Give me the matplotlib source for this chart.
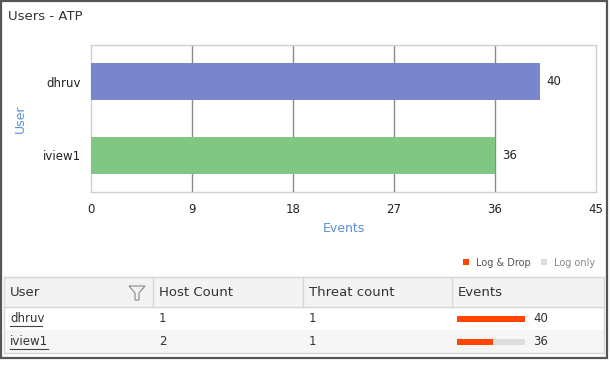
import numpy as np
import matplotlib.pyplot as plt
from matplotlib.patches import Rectangle, Polygon

users = ['dhruv', 'iview1']
events = [40, 36]
host_count = [1, 2]
threat_count = [1, 1]
log_drop = [40, 19]
log_only = [0, 17]
bar_colors = ['#7986cb', '#81c784']
x_ticks = [0, 9, 18, 27, 36, 45]

W, H = 610, 372
fig = plt.figure(figsize=(W / 100, H / 100), dpi=100)
plt.rcParams['font.family'] = ['DejaVu Sans']

# overlay in pixel coords for frame, title and table
ov = fig.add_axes([0, 0, 1, 1])
ov.set_xlim(0, W)
ov.set_ylim(H, 0)
ov.axis('off')

ov.add_patch(Rectangle((1, 1), 606, 357, fill=False, edgecolor='#555555', lw=1.6))
ov.text(8, 16, 'Users - ATP', fontsize=9.5, color='#333333', va='center', ha='left')

# bar chart
ax = fig.add_axes([91 / W, 1 - 192 / H, 505 / W, 147 / H])
ypos = np.arange(len(users))[::-1]
ax.barh(ypos, events, height=0.5, color=bar_colors, zorder=3)
for y, v in zip(ypos, events):
    ax.text(v + 0.6, y, str(v), va='center', ha='left', fontsize=8.5, color='#222222')
ax.set_xlim(0, 45)
ax.set_ylim(-0.5, 1.5)
ax.set_xticks(x_ticks)
ax.set_yticks(ypos)
ax.set_yticklabels(users)
ax.tick_params(length=0, labelsize=8.5, labelcolor='#222222', pad=8)
ax.tick_params(axis='y', pad=7)
for t in x_ticks[1:-1]:
    ax.axvline(t, color='#8a8a8a', lw=1, zorder=1)
for s in ax.spines.values():
    s.set_color('#d0d0d0')
    s.set_linewidth(1)
ax.set_xlabel('Events', fontsize=9, color='#5b8fd6', labelpad=4)
ax.set_ylabel('User', fontsize=9, color='#5b8fd6', labelpad=12)

# legend
ov.add_patch(Rectangle((463, 259), 6, 6, color='#ff4500', lw=0))
ov.text(476, 263, 'Log & Drop', fontsize=7, color='#555555', va='center')
ov.add_patch(Rectangle((541, 259), 6, 6, color='#dddddd', lw=0))
ov.text(554, 263, 'Log only', fontsize=7, color='#888888', va='center')

# table
tl, tr = 4, 604
col_x = [4, 153, 303, 452, 604]
top, head_b, row_h = 277, 307, 23
ov.add_patch(Rectangle((tl, top), tr - tl, head_b - top, facecolor='#f3f3f3', edgecolor='none'))
for i in range(len(users)):
    fc = '#ffffff' if i % 2 == 0 else '#f6f6f6'
    ov.add_patch(Rectangle((tl, head_b + i * row_h), tr - tl, row_h, facecolor=fc, edgecolor='none'))
bottom = head_b + row_h * len(users)
ov.add_patch(Rectangle((tl, top), tr - tl, bottom - top, fill=False, edgecolor='#d6d6d6', lw=1))
ov.plot([tl, tr], [head_b, head_b], color='#d6d6d6', lw=1)
for cx in col_x[1:-1]:
    ov.plot([cx, cx], [top, head_b], color='#d6d6d6', lw=1)

headers = ['User', 'Host Count', 'Threat count', 'Events']
for cx, h in zip(col_x, headers):
    ov.text(cx + 6, (top + head_b) / 2, h, fontsize=9.5, color='#333333', va='center')
# filter icon
ov.add_patch(Polygon([[129, 286], [145, 286], [139, 293], [139, 300], [135, 300], [135, 293]],
                     closed=True, fill=False, edgecolor='#888888', lw=0.8))

bar_len = 68
for i, u in enumerate(users):
    yc = head_b + i * row_h + row_h / 2
    ov.text(col_x[0] + 6, yc, u, fontsize=8.5, color='#333333', va='center')
    ov.plot([col_x[0] + 6, col_x[0] + 6 + len(u) * 6.3], [yc + 7, yc + 7], color='#444444', lw=0.8)
    ov.text(col_x[1] + 6, yc, str(host_count[i]), fontsize=8.5, color='#333333', va='center')
    ov.text(col_x[2] + 6, yc, str(threat_count[i]), fontsize=8.5, color='#333333', va='center')
    total = log_drop[i] + log_only[i]
    wd = bar_len * log_drop[i] / total
    bx = col_x[3] + 5
    ov.add_patch(Rectangle((bx, yc - 3), bar_len, 6, color='#dddddd', lw=0))
    ov.add_patch(Rectangle((bx, yc - 3), wd, 6, color='#ff4500', lw=0))
    ov.text(bx + bar_len + 8, yc, str(events[i]), fontsize=8.5, color='#333333', va='center')

fig.savefig('out.png', dpi=100)
